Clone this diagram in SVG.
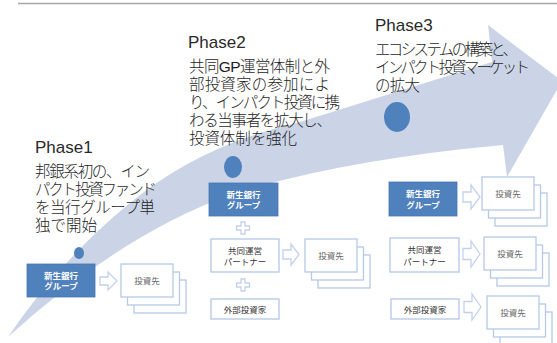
<svg xmlns="http://www.w3.org/2000/svg" width="557" height="343" viewBox="0 0 557 343">
<style>
.band{fill:#cbd4e6}
.dot{fill:#4f81bd}
.blue{fill:#4f81bd;stroke:#4676b3;stroke-width:0.8}
.wbox{fill:#fff;stroke:#b4c7e6;stroke-width:1.3}
.inv{fill:#fff;stroke:#b6c9e6;stroke-width:1.3}
.conn{fill:#fff;stroke:#c3d2ea;stroke-width:1.3}
.ph{font-family:"Liberation Sans",sans-serif;font-size:17px;fill:#2a2a2a}
.jp{font-family:"Liberation Sans","Noto Sans CJK JP",sans-serif;font-size:15.5px;font-weight:300;fill:#1e1e1e}
.bt{font-family:"Liberation Sans","Noto Sans CJK JP",sans-serif;font-size:8.5px;font-weight:bold;fill:#fff;text-anchor:middle}
.gt{font-family:"Liberation Sans","Noto Sans CJK JP",sans-serif;font-size:8.5px;fill:#333;text-anchor:middle}
.it{font-family:"Liberation Sans","Noto Sans CJK JP",sans-serif;font-size:8.5px;fill:#666;text-anchor:middle}
</style>
<defs>
<g id="stack">
<rect class="inv" x="13" y="16" width="52" height="33"/>
<rect class="inv" x="6.5" y="8" width="52" height="33"/>
<rect class="inv" x="0" y="0" width="52" height="33"/>
</g>
</defs>
<line x1="18" y1="3.5" x2="557" y2="3.5" stroke="#a6a6a6" stroke-width="1.3"/>
<g id="band">
<path class="band" d="M8,337 Q60,260 130,203 Q200,145 300,122 L492,62 L488,25 L562,81 L507,177 L503,145 Q340,160 230,195 Q120,235 8,337 Z"/>
</g>
<g id="phase1-text">
<text class="ph" x="35" y="153">Phase1</text>
<text class="jp" x="35" y="177" textLength="115">邦銀系初の、イン</text>
<text class="jp" x="35" y="195" textLength="122">パクト投資ファンド</text>
<text class="jp" x="35" y="213" textLength="120">を当行グループ単</text>
<text class="jp" x="35" y="231" textLength="62">独で開始</text>
</g>
<g id="phase2-text">
<text class="ph" x="188" y="48">Phase2</text>
<text class="jp" x="189" y="72" textLength="141">共同GP運営体制と外</text>
<text class="jp" x="189" y="90" textLength="141">部投資家の参加によ</text>
<text class="jp" x="189" y="108" textLength="151">り、インパクト投資に携</text>
<text class="jp" x="189" y="126" textLength="143">わる当事者を拡大し、</text>
<text class="jp" x="189" y="144" textLength="108">投資体制を強化</text>
</g>
<g id="phase3-text">
<text class="ph" x="375" y="31">Phase3</text>
<text class="jp" x="375" y="55" textLength="143">エコシステムの構築と、</text>
<text class="jp" x="375" y="73" textLength="155">インパクト投資マーケット</text>
<text class="jp" x="375" y="91" textLength="45">の拡大</text>
</g>
<g id="dots">
<ellipse class="dot" cx="79" cy="253" rx="5" ry="6"/>
<ellipse class="dot" cx="233" cy="167" rx="9" ry="11"/>
<ellipse class="dot" cx="397" cy="117" rx="13" ry="15"/>
</g>
<g id="connectors">
<path class="conn" d="M100,277 H108 V272 L117,281 L108,290 V285 H100 Z"/>
<path class="conn" d="M283,250 H291 V244 L299,254.5 L291,265 V259 H283 Z"/>
<path class="conn" d="M463,192 H471 V185 L480,197 L471,209 V202 H463 Z"/>
<path class="conn" d="M463,248.5 H471 V241 L480,254 L471,267 V259.5 H463 Z"/>
<path class="conn" d="M464,301.5 H472 V294 L481,307 L472,320 V312.5 H464 Z"/>
<path class="conn" d="M241,222 H245 V226 H249.5 V230 H245 V234 H241 V230 H236.5 V226 H241 Z"/>
<path class="conn" d="M241,279 H245 V283 H249.5 V287 H245 V291 H241 V287 H236.5 V283 H241 Z"/>
</g>
<g id="p1-bank">
<rect class="blue" x="27" y="264" width="68" height="33"/>
<text class="bt" x="61" y="278.5">新生銀行</text>
<text class="bt" x="61" y="289">グループ</text>
</g>
<g id="p1-investee">
<use href="#stack" x="121" y="264"/>
<text class="it" x="147" y="284">投資先</text>
</g>
<g id="p2-bank">
<rect class="blue" x="209" y="183" width="69" height="33"/>
<text class="bt" x="243.5" y="197.5">新生銀行</text>
<text class="bt" x="243.5" y="208">グループ</text>
</g>
<g id="p2-partner">
<rect class="wbox" x="211" y="239" width="68" height="33"/>
<text class="gt" x="245" y="253.5">共同運営</text>
<text class="gt" x="245" y="265">パートナー</text>
</g>
<g id="p2-external">
<rect class="wbox" x="211" y="299" width="68" height="20"/>
<text class="gt" x="245" y="312.5">外部投資家</text>
</g>
<g id="p2-investee">
<use href="#stack" x="305" y="239"/>
<text class="it" x="331" y="258.5">投資先</text>
</g>
<g id="p3-bank">
<rect class="blue" x="389" y="182" width="68" height="34"/>
<text class="bt" x="423" y="197">新生銀行</text>
<text class="bt" x="423" y="207.5">グループ</text>
</g>
<g id="p3-partner">
<rect class="wbox" x="390" y="238" width="69" height="34"/>
<text class="gt" x="424.5" y="253">共同運営</text>
<text class="gt" x="424.5" y="264.5">パートナー</text>
</g>
<g id="p3-external">
<rect class="wbox" x="391" y="299" width="68" height="20"/>
<text class="gt" x="425" y="312.5">外部投資家</text>
</g>
<g id="p3-investee-1">
<use href="#stack" x="482" y="177"/>
<text class="it" x="508" y="197">投資先</text>
</g>
<g id="p3-investee-2">
<use href="#stack" x="484" y="237"/>
<text class="it" x="510" y="257">投資先</text>
</g>
<g id="p3-investee-3">
<use href="#stack" x="487" y="296"/>
<text class="it" x="513" y="316">投資先</text>
</g>
</svg>
